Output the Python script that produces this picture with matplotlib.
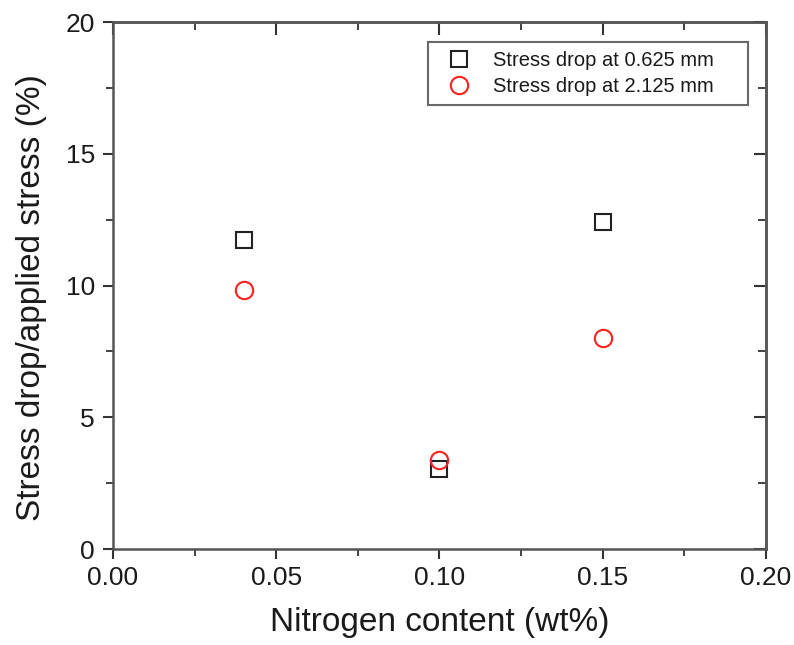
import matplotlib
matplotlib.use("Agg")
import matplotlib.pyplot as plt
from matplotlib.ticker import MultipleLocator, NullFormatter

plt.rcParams['font.family'] = ['Liberation Sans', 'DejaVu Sans']

nitrogen = [0.04, 0.10, 0.15]
drop_0625 = [11.73, 3.05, 12.41]
drop_2125 = [9.83, 3.38, 8.0]
labels = ["Stress drop at 0.625 mm", "Stress drop at 2.125 mm"]
xticks = [0.00, 0.05, 0.10, 0.15, 0.20]
yticks = [0, 5, 10, 15, 20]

fig = plt.figure(figsize=(7.94, 6.45), dpi=100)
ax = fig.add_axes([0.1423, 0.1488, 0.8224, 0.817])

ax.plot(nitrogen, drop_0625, linestyle='none', marker='s', markersize=11,
        markerfacecolor='none', markeredgecolor='#222222', markeredgewidth=1.5, label=labels[0])
ax.plot(nitrogen, drop_2125, linestyle='none', marker='o', markersize=12.5,
        markerfacecolor='none', markeredgecolor='#ff2020', markeredgewidth=1.5, label=labels[1])

ax.set_xlim(0, 0.20)
ax.set_ylim(0, 20)
ax.set_xticks(xticks)
ax.set_xticklabels([f"{v:.2f}" for v in xticks])
ax.set_yticks(yticks)
ax.set_yticklabels([str(v) for v in yticks])
ax.xaxis.set_minor_locator(MultipleLocator(0.025))
ax.yaxis.set_minor_locator(MultipleLocator(2.5))
ax.tick_params(which='both', direction='out', top=False, right=False, labelsize=19,
               color='#333333', labelcolor='#1a1a1a')
ax.tick_params(axis='x', which='major', pad=5)
ax.tick_params(axis='y', which='major', pad=6)
ax.tick_params(which='major', length=7, width=1.5)
ax.tick_params(which='minor', length=5, width=1.3)

# inward ticks on top and right
top = ax.secondary_xaxis('top')
top.set_xticks(xticks)
top.xaxis.set_minor_locator(MultipleLocator(0.025))
top.xaxis.set_major_formatter(NullFormatter())
top.tick_params(which='both', direction='in', color='#333333')
top.tick_params(which='major', length=9, width=1.5)
top.tick_params(which='minor', length=6, width=1.3)
right = ax.secondary_yaxis('right')
right.set_yticks(yticks)
right.yaxis.set_minor_locator(MultipleLocator(2.5))
right.yaxis.set_major_formatter(NullFormatter())
right.tick_params(which='both', direction='in', color='#333333')
right.tick_params(which='major', length=9, width=1.5)
right.tick_params(which='minor', length=6, width=1.3)
for a in (top, right):
    for s in a.spines.values():
        s.set_linewidth(1.8)
        s.set_color('#555555')

for s in ax.spines.values():
    s.set_linewidth(1.8)
    s.set_color('#555555')

ax.set_xlabel("Nitrogen content (wt%)", fontsize=24, color='#1a1a1a')
ax.set_ylabel("Stress drop/applied stress (%)", fontsize=24, color='#1a1a1a')
ax.xaxis.label.set_va('center')
ax.yaxis.label.set_va('center')
ax.xaxis.set_label_coords(0.5, -0.140)
ax.yaxis.set_label_coords(-0.125, 0.477)

leg = ax.legend(loc='upper left', bbox_to_anchor=(0.4824, 0.5, 0.49, 0.462), mode='expand',
                fontsize=14.5, frameon=True, fancybox=False, edgecolor='#444444',
                handletextpad=0.6, borderpad=0.45, labelspacing=0.35, handlelength=2.2,
                borderaxespad=0)
leg.get_frame().set_linewidth(1.5)
for t in leg.get_texts():
    t.set_color('#1a1a1a')

fig.savefig("out.png", dpi=100)
